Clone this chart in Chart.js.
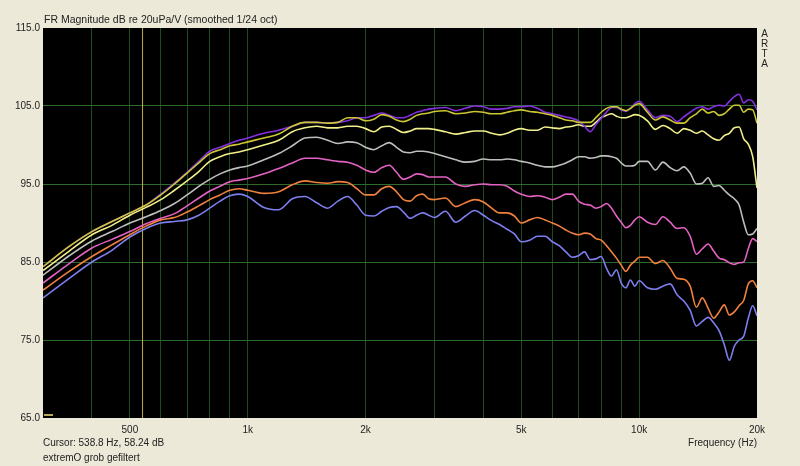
<!DOCTYPE html>
<html><head><meta charset="utf-8">
<script src="https://cdn.jsdelivr.net/npm/chart.js@4.4.1/dist/chart.umd.min.js"></script>
<style>
html,body{margin:0;padding:0;background:#ECE9D8;}
#wrap{position:relative;width:800px;height:466px;overflow:hidden;font-family:"Liberation Sans",Arial,sans-serif;color:#222;}
canvas{position:absolute;left:0;top:0;}
.t{position:absolute;white-space:nowrap;font-size:10px;line-height:12px;}
</style></head><body>
<div id="wrap">
<canvas id="c" width="800" height="466"></canvas>
<div class="t" style="left:44px;top:13px;font-size:10.5px;">FR Magnitude dB re 20uPa/V (smoothed 1/24 oct)</div>
<div class="t" style="left:760px;top:29px;width:9px;text-align:center;line-height:10px;">A<br>R<br>T<br>A</div>
<div class="t" style="left:43px;top:437px;">Cursor: 538.8 Hz, 58.24 dB</div>
<div class="t" style="left:43px;top:452px;">extremO grob gefiltert</div>
<div class="t" style="right:43px;top:437px;">Frequency (Hz)</div>
</div>
<script>
const freqs=[300,350,400,450,500,550,600,650,700,750,800,850,900,950,1000,
1100,1200,1300,1400,1500,1600,1700,1800,1900,2000,
2100,2200,2300,2400,2500,2600,2700,2800,2900,3000,
3200,3400,3600,3800,4000,4200,4400,4600,4800,5000,
5250,5500,5750,6000,6250,6500,6750,7000,7250,7500,7750,8000,8250,8500,8750,9000,9250,9500,9750,10000,
10500,11000,11500,12000,12500,13000,13500,14000,14500,15000,15500,16000,16500,17000,17500,18000,18500,19000,19500,20000];

const purple=[84.4,87.0,88.9,90.2,91.3,92.3,93.7,95.1,96.5,97.9,99.2,99.7,100.2,100.6,100.9,
101.5,101.9,102.4,102.9,102.9,102.8,102.9,103.1,103.5,103.5,
103.8,104.1,103.8,103.5,103.5,103.8,104.2,104.4,104.6,104.7,
104.8,104.4,104.7,105.0,104.9,104.6,104.6,104.7,104.9,104.9,
105.0,104.7,104.2,104.0,103.8,103.6,103.4,103.1,102.4,101.7,102.6,103.4,104.2,104.8,104.8,104.5,104.3,104.7,105.3,105.6,
104.5,103.5,103.8,103.7,103.0,103.6,104.2,104.7,104.9,104.6,104.9,105.1,105.0,105.6,106.2,106.5,105.4,105.8,105.6,104.5];

const olive=[84.4,87.0,88.9,90.2,91.3,92.3,93.6,95.0,96.4,97.7,98.9,99.4,99.9,100.1,100.4,
100.9,101.4,102.4,102.9,102.9,102.8,102.9,103.5,103.5,103.1,
103.3,103.9,103.7,103.2,103.0,103.3,103.8,104.0,104.1,104.3,
104.4,104.0,104.1,104.3,104.2,104.0,104.0,104.2,104.4,104.5,
104.3,104.2,104.0,103.8,103.5,103.2,103.1,102.9,102.9,102.9,103.5,104.2,104.7,104.9,104.9,104.6,104.4,104.7,105.1,105.3,
104.2,103.2,103.6,103.2,102.8,102.8,103.5,104.0,104.6,104.1,104.3,103.8,104.0,104.6,105.1,105.1,104.2,104.6,104.5,102.8];

const lightYellow=[83.9,86.4,88.5,89.7,91.0,92.0,93.0,94.2,95.4,96.6,97.9,98.5,98.9,99.1,99.4,
100.0,100.6,101.7,102.2,102.4,102.2,102.2,102.4,102.4,102.1,
101.7,102.3,102.4,102.0,101.6,101.8,102.1,102.1,102.1,102.0,
101.7,101.4,101.6,101.8,101.8,101.5,101.3,101.5,101.9,102.1,
101.9,101.9,102.3,102.2,102.1,102.3,102.4,102.6,102.4,102.4,102.9,103.5,103.8,104.0,103.7,103.5,103.5,103.7,103.9,103.8,
103.1,102.0,102.5,102.1,101.5,102.1,101.9,101.5,101.8,101.3,100.8,100.6,101.2,101.5,102.2,102.3,100.8,100.1,98.5,94.5];

const grey=[83.3,85.8,87.7,88.9,90.0,90.8,91.6,92.5,93.6,94.7,95.6,96.3,96.8,97.1,97.3,
98.1,98.9,99.9,100.9,101.0,100.6,100.2,100.4,100.3,99.7,
99.4,99.9,100.3,99.7,99.1,99.0,99.2,99.2,99.1,98.9,
98.5,98.1,97.8,97.9,98.2,98.1,98.1,98.2,98.1,97.9,
97.7,97.4,97.2,97.2,97.4,97.7,98.1,98.5,98.5,98.3,98.4,98.6,98.6,98.5,98.3,97.7,97.3,97.3,97.4,97.9,
97.9,96.8,97.8,97.1,96.7,97.2,96.4,95.0,95.1,95.8,94.7,94.8,94.2,93.6,93.1,92.3,90.1,88.5,88.6,89.3];

const pink=[82.3,84.8,86.8,87.9,88.9,89.9,90.6,91.2,92.2,93.2,94.1,94.7,95.3,95.5,95.7,
96.3,97.0,97.7,98.3,98.3,98.1,97.9,97.8,97.4,96.8,
96.5,97.1,97.4,96.5,95.6,95.9,96.3,96.2,95.9,95.9,
95.9,95.0,94.7,94.9,95.0,94.9,94.9,94.7,94.1,93.7,
93.4,93.5,93.3,93.0,93.3,93.7,93.7,92.8,92.4,92.3,91.9,92.1,92.5,91.9,90.9,90.1,89.4,89.7,90.4,90.8,
90.1,89.8,90.8,90.1,89.3,89.4,88.3,86.0,86.7,87.3,86.4,85.5,85.3,84.9,84.7,84.9,85.0,86.7,88.0,87.6];

const orange=[81.4,83.8,85.7,87.2,88.5,89.6,90.4,90.7,91.4,92.2,93.0,93.6,94.2,94.4,94.2,
93.8,94.0,94.9,95.4,95.2,95.1,95.3,95.2,94.4,93.6,
93.6,94.4,94.7,94.0,93.0,92.8,93.5,93.7,93.1,93.0,
93.2,92.1,92.6,93.0,92.7,91.9,91.3,91.3,90.9,90.0,
90.4,90.7,90.4,90.0,89.6,89.1,88.7,88.5,88.7,88.6,88.0,87.8,87.1,86.3,85.5,84.6,83.8,84.6,85.1,85.6,
85.6,84.8,85.2,84.2,82.9,82.8,81.9,79.2,80.4,79.1,77.8,78.6,79.5,78.2,78.6,79.4,80.1,82.2,82.6,81.7];

const blue=[80.4,82.9,85.0,86.5,88.2,89.3,90.0,90.2,90.4,91.0,91.9,92.8,93.5,93.7,93.4,
92.0,91.7,93.1,93.4,92.6,91.9,92.8,93.4,92.3,91.0,
90.9,91.5,92.0,92.1,91.4,90.6,91.0,91.3,91.0,90.7,
91.5,90.1,90.9,91.6,91.0,90.3,89.8,89.2,88.6,87.6,
87.8,88.3,88.3,87.6,87.1,86.3,85.6,85.8,86.3,85.3,85.4,85.7,84.2,83.2,84.0,82.3,81.7,82.7,81.9,82.6,
81.7,81.5,81.9,82.2,80.8,80.0,78.8,76.8,77.4,77.9,77.2,76.2,74.4,72.4,74.2,75.0,75.5,77.8,79.4,78.1];

const xTickValues=[300,400,500,600,700,800,900,1000,2000,3000,4000,5000,6000,7000,8000,9000,10000,20000];
const xTickLabels={500:'500',1000:'1k',2000:'2k',5000:'5k',10000:'10k',20000:'20k'};
const yTickValues=[65,75,85,95,105,115];
const cursorFreq=538.8;

const xMin=300,xMax=20000,yMin=65,yMax=115;

Chart.defaults.font.family='"Liberation Sans", Arial, sans-serif';
Chart.defaults.font.size=10;
Chart.defaults.color='#222';

const series=[
 {label:'olive',values:olive,color:'#CCC634'},
 {label:'purple',values:purple,color:'#8430E0'},
 {label:'lightYellow',values:lightYellow,color:'#F2F08A'},
 {label:'grey',values:grey,color:'#BEBEBE'},
 {label:'pink',values:pink,color:'#E462C2'},
 {label:'orange',values:orange,color:'#F0803E'},
 {label:'blue',values:blue,color:'#7E7EEE'}
];

const datasets=series.map(s=>({
 label:s.label,
 data:freqs.map((f,i)=>({x:f,y:s.values[i]})),
 borderColor:s.color,
 borderWidth:1.6,
 pointRadius:0,
 fill:false,
 cubicInterpolationMode:'monotone'
}));
datasets.push({
 label:'cursor',
 data:[{x:cursorFreq,y:yMin},{x:cursorFreq,y:yMax}],
 borderColor:'#BFAE48',
 borderWidth:1,
 pointRadius:0,
 fill:false
});

const bgPlugin={id:'bg',beforeDraw(chart){const {ctx,chartArea:a}=chart;ctx.save();ctx.fillStyle='#000';ctx.fillRect(a.left,a.top,a.right-a.left,a.bottom-a.top);ctx.restore();}};
const markPlugin={id:'mark',afterDatasetsDraw(chart){const {ctx,chartArea:a}=chart;ctx.save();ctx.strokeStyle='#B4A85A';ctx.lineWidth=2;ctx.beginPath();ctx.moveTo(a.left+1,a.bottom-3);ctx.lineTo(a.left+10,a.bottom-3);ctx.stroke();ctx.restore();}};

new Chart(document.getElementById('c'),{
 type:'line',
 data:{datasets},
 plugins:[bgPlugin,markPlugin],
 options:{
  responsive:false,animation:false,devicePixelRatio:1,
  layout:{padding:{left:0,top:28,right:43,bottom:0}},
  plugins:{legend:{display:false},tooltip:{enabled:false},title:{display:false}},
  scales:{
   x:{type:'logarithmic',min:xMin,max:xMax,
    afterBuildTicks:s=>{s.ticks=xTickValues.map(v=>({value:v}));},
    afterFit:s=>{s.height=48;},
    ticks:{autoSkip:false,maxRotation:0,minRotation:0,padding:6,color:'#222',callback:v=>xTickLabels[v]||''},
    grid:{drawTicks:false,lineWidth:1,color:c=>(c.tick&&(c.tick.value===xMin||c.tick.value===xMax))?'rgba(0,0,0,0)':'#1D4D1D'},
    border:{display:false}},
   y:{type:'linear',min:yMin,max:yMax,
    afterBuildTicks:s=>{s.ticks=yTickValues.map(v=>({value:v}));},
    afterFit:s=>{s.width=43;},
    ticks:{padding:3,color:'#222',callback:v=>Number(v).toFixed(1)},
    grid:{drawTicks:false,lineWidth:1,color:c=>(c.tick&&(c.tick.value===yMin||c.tick.value===yMax))?'rgba(0,0,0,0)':'#2D6B2D'},
    border:{display:false}}
  }
 }
});
</script>
</body></html>
